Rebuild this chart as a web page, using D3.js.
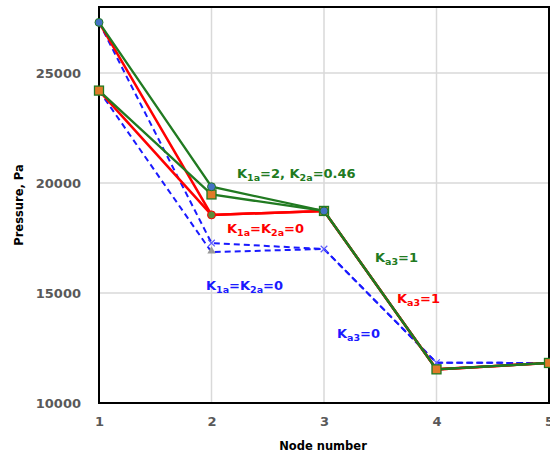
<!DOCTYPE html>
<html>
<head>
<meta charset="utf-8">
<script src="https://cdn.jsdelivr.net/npm/d3@7"></script>
<style>
  html, body { margin: 0; padding: 0; background: #fff; }
  svg { display: block; }
  text { font-family: "DejaVu Sans", Verdana, sans-serif; font-weight: bold; }
</style>
</head>
<body>
<svg id="chart" width="550" height="457"></svg>
<script>
// ---------- data ----------
const nodes = [1, 2, 3, 4, 5];
const greenHigh = [27300, 19830, 18730, 11530, 11820];
const greenLow  = [24200, 19480, 18730, 11530, 11820];
const redHigh   = [27300, 18550, 18730, 11530, 11820];
const redLow    = [24200, 18550, 18730, 11530, 11820];
const blueHigh  = [27300, 17270, 17000, 11830, 11820];
const blueLow   = [24200, 16860, 17000, 11830, 11820];
const yTicks = [10000, 15000, 20000, 25000];
const xTicks = [1, 2, 3, 4, 5];
const yTitle = "Pressure, Pa";
const xTitle = "Node number";

// ---------- layout ----------
const svg = d3.select("#chart");
const x = d3.scaleLinear().domain([1, 5]).range([99, 549]);
const y = d3.scaleLinear().domain([10000, 28000]).range([403, 7]);

const GREEN = "#217a21", RED = "#ff0000", BLUE = "#1a1aff", GRAY = "#595959";

// gridlines
svg.append("g").selectAll("line.vx").data(xTicks.filter(d => d > 1 && d < 5)).join("line")
  .attr("x1", d => x(d)).attr("x2", d => x(d)).attr("y1", y(28000)).attr("y2", y(10000))
  .attr("stroke", "#d9d9d9").attr("stroke-width", 1.5);
svg.append("g").selectAll("line.hy").data(yTicks.filter(d => d > 10000)).join("line")
  .attr("x1", x(1)).attr("x2", x(5)).attr("y1", d => y(d)).attr("y2", d => y(d))
  .attr("stroke", "#d9d9d9").attr("stroke-width", 1.5);

// tick labels
const xAxis = d3.axisBottom(x).tickValues(xTicks).tickFormat(d3.format("d")).tickSize(0).tickPadding(14);
const gx = svg.append("g").attr("transform", `translate(0,${y(10000)})`).call(xAxis);
gx.select(".domain").remove();
gx.selectAll("text").attr("fill", GRAY).style("font-size", "13px").style("font-family", '"DejaVu Sans", Verdana, sans-serif').style("font-weight", "bold");

const yAxis = d3.axisLeft(y).tickValues(yTicks).tickFormat(d3.format("d")).tickSize(0).tickPadding(18);
const gy = svg.append("g").attr("transform", `translate(${x(1)},0)`).call(yAxis);
gy.select(".domain").remove();
gy.selectAll("text").attr("fill", GRAY).style("font-size", "13px").style("font-family", '"DejaVu Sans", Verdana, sans-serif').style("font-weight", "bold");

// axis titles
svg.append("text").attr("transform", `translate(19,${205}) rotate(-90)`)
  .attr("text-anchor", "middle").attr("dominant-baseline", "middle")
  .style("font-size", "11.5px").attr("fill", "#000").text(yTitle);
svg.append("text").attr("x", 323).attr("y", 450).attr("text-anchor", "middle")
  .style("font-size", "11.5px").attr("fill", "#000").text(xTitle);

// lines
const line = d3.line().x((d, i) => x(nodes[i])).y(d => y(d));
const series = [
  { v: blueLow,  color: BLUE,  dash: "6,4", w: 2 },
  { v: blueHigh, color: BLUE,  dash: "6,4", w: 2 },
  { v: redHigh,  color: RED,   dash: null,  w: 2.5 },
  { v: redLow,   color: RED,   dash: null,  w: 2.5 },
  { v: greenHigh, color: GREEN, dash: null, w: 2.3 },
  { v: greenLow,  color: GREEN, dash: null, w: 2.3 }
];
svg.append("g").selectAll("path").data(series).join("path")
  .attr("d", d => line(d.v)).attr("fill", "none")
  .attr("stroke", d => d.color).attr("stroke-width", d => d.w)
  .attr("stroke-dasharray", d => d.dash);

// markers
const mk = svg.append("g");
// blue series markers: crosses (high) and gray triangles (low)
mk.selectAll("path.bx").data(blueHigh.slice(1, 4)).join("path")
  .attr("transform", (d, i) => `translate(${x(nodes[i + 1])},${y(d)})`)
  .attr("d", d3.symbol(d3.symbolX, 30)).attr("stroke", "#5a5aff").attr("stroke-width", 1.2).attr("fill", "none");
mk.selectAll("path.bt").data(blueLow.slice(1, 2)).join("path")
  .attr("transform", (d, i) => `translate(${x(nodes[i + 1])},${y(d) - 1})`)
  .attr("d", d3.symbol(d3.symbolTriangle, 30)).attr("fill", "#9a9a9a");
// red series markers (olive circles)
mk.selectAll("circle.r").data(redHigh.slice(1, 2)).join("circle")
  .attr("cx", (d, i) => x(nodes[i + 1])).attr("cy", d => y(d)).attr("r", 4)
  .attr("fill", "#5b8c3a").attr("stroke", RED).attr("stroke-width", 1);
// green low: orange squares
mk.selectAll("rect.g").data(greenLow).join("rect")
  .attr("x", (d, i) => x(nodes[i]) - 4.5).attr("y", d => y(d) - 4.5)
  .attr("width", 9).attr("height", 9)
  .attr("fill", "#e07a28").attr("stroke", GREEN).attr("stroke-width", 1.3);
// green high: blue circles
mk.selectAll("circle.g").data(greenHigh.slice(0, 3)).join("circle")
  .attr("cx", (d, i) => x(nodes[i])).attr("cy", d => y(d)).attr("r", 4)
  .attr("fill", "#4472c4").attr("stroke", GREEN).attr("stroke-width", 1);

// annotations
function label(xp, yp, color, parts) {
  const t = svg.append("text").attr("x", xp).attr("y", yp).attr("fill", color).style("font-size", "13px");
  parts.forEach(p => {
    if (p.sub) {
      t.append("tspan").attr("dy", 3).style("font-size", "9.5px").text(p.t);
    } else {
      t.append("tspan").attr("dy", p.after ? -3 : 0).text(p.t);
    }
  });
}
const annGreen1 = [{t:"K"},{t:"1a",sub:1},{t:"=2, K",after:1},{t:"2a",sub:1},{t:"=0.46",after:1}];
const annRed1   = [{t:"K"},{t:"1a",sub:1},{t:"=K",after:1},{t:"2a",sub:1},{t:"=0",after:1}];
const annBlue1  = [{t:"K"},{t:"1a",sub:1},{t:"=K",after:1},{t:"2a",sub:1},{t:"=0",after:1}];
const annGreen2 = [{t:"K"},{t:"a3",sub:1},{t:"=1",after:1}];
const annRed2   = [{t:"K"},{t:"a3",sub:1},{t:"=1",after:1}];
const annBlue2  = [{t:"K"},{t:"a3",sub:1},{t:"=0",after:1}];
label(237, 178, GREEN, annGreen1);
label(227, 233, RED, annRed1);
label(206, 290, BLUE, annBlue1);
label(375, 262, GREEN, annGreen2);
label(397, 303, RED, annRed2);
label(337, 338, BLUE, annBlue2);

// plot frame
svg.append("rect").attr("x", x(1)).attr("y", y(28000)).attr("width", x(5) - x(1)).attr("height", y(10000) - y(28000))
  .attr("fill", "none").attr("stroke", "#000").attr("stroke-width", 2);
// re-draw markers above frame on axis
svg.node().appendChild(mk.node());
</script>
</body>
</html>
